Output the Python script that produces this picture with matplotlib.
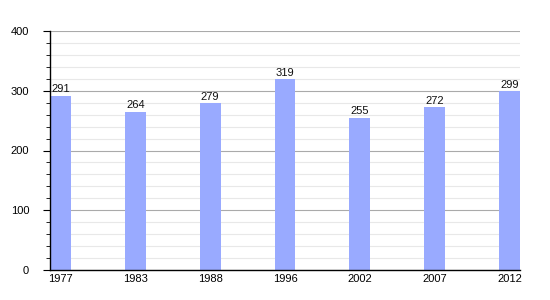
import numpy as np
from matplotlib import pyplot as plt
from matplotlib.ticker import MultipleLocator

plt.rcParams['font.family'] = ['Liberation Sans', 'DejaVu Sans']

years = ["1977", "1983", "1988", "1996", "2002", "2007", "2012"]
population = [291, 264, 279, 319, 255, 272, 299]

fig = plt.figure(figsize=(5.5, 3), dpi=100)
ax = fig.add_axes([50 / 550, 0.1, 470 / 550, 239 / 300])

x = np.arange(len(years))
width = 0.28
ax.bar(x, population, width=width, color="#99aaff", zorder=2)

for xi, v in zip(x, population):
    ax.text(xi, v + 3, str(v), ha="center", va="bottom", fontsize=8, color="#111111", zorder=3)

ax.set_xlim(-width / 2, len(years) - 1 + width / 2)
ax.set_ylim(0, 400)
ax.set_xticks(x)
ax.set_xticklabels(years, fontsize=8)
ax.tick_params(axis="x", length=0, pad=3)
ax.yaxis.set_major_locator(MultipleLocator(100))
ax.yaxis.set_minor_locator(MultipleLocator(20))
ax.tick_params(axis="y", which="major", length=5, labelsize=8, pad=10)
ax.tick_params(axis="y", which="minor", length=3)

ax.grid(axis="y", which="major", color="#aaaaaa", linewidth=0.8, zorder=0)
ax.grid(axis="y", which="minor", color="#e8e8e8", linewidth=0.8, zorder=0)

ax.spines["top"].set_visible(False)
ax.spines["right"].set_visible(False)
ax.spines["left"].set_linewidth(1)
ax.spines["bottom"].set_linewidth(1)

fig.savefig("out.png", dpi=100)
